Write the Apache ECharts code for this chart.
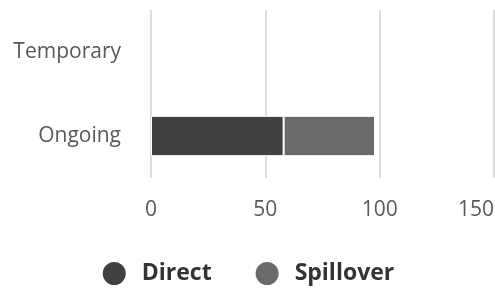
<!DOCTYPE html>
<html>
<head>
<meta charset="utf-8">
<script src="https://cdn.jsdelivr.net/npm/echarts@6/dist/echarts.min.js"></script>
<style>
  html, body { margin: 0; padding: 0; background: #fff; }
  #chart { width: 495px; height: 288px; }
</style>
</head>
<body>
<div id="chart"></div>
<script>
const categories = ['Ongoing', 'Temporary'];
const directValues = [58, null];
const spilloverValues = [40, null];
const xTicks = [0, 50, 100, 150];

const chart = echarts.init(document.getElementById('chart'));

const option = {
  animation: false,
  textStyle: { fontFamily: 'Open Sans' },
  grid: {
    left: 151,
    right: 1,
    top: 10,
    bottom: 110,
    containLabel: false,
    outerBoundsMode: 'none'
  },
  legend: {
    top: 255,
    left: 'center',
    icon: 'circle',
    itemWidth: 25,
    itemHeight: 25,
    itemGap: 42,
    textStyle: {
      fontFamily: 'Open Sans',
      fontWeight: 'bold',
      fontSize: 23,
      color: '#333',
      padding: [0, 0, 0, 10]
    },
    data: ['Direct', 'Spillover']
  },
  xAxis: {
    type: 'value',
    min: xTicks[0],
    max: xTicks[xTicks.length - 1],
    interval: 50,
    axisLine: { show: false },
    axisTick: { show: false },
    splitLine: { lineStyle: { color: '#dcdcdc', width: 2 } },
    axisLabel: { color: '#595959', fontSize: 21, margin: 22, alignMaxLabel: 'right' }
  },
  yAxis: {
    type: 'category',
    data: categories,
    axisLine: { show: false },
    axisTick: { show: false },
    axisLabel: { color: '#595959', fontSize: 21, margin: 30, padding: [4, 0, 0, 0] }
  },
  series: [
    {
      name: 'Direct',
      type: 'bar',
      stack: 'total',
      data: directValues,
      barWidth: '48%',
      itemStyle: { color: '#404040', borderColor: '#fff', borderWidth: 1 }
    },
    {
      name: 'Spillover',
      type: 'bar',
      stack: 'total',
      data: spilloverValues,
      itemStyle: { color: '#6a6a6a', borderColor: '#fff', borderWidth: 1 }
    }
  ]
};

chart.setOption(option);
</script>
</body>
</html>
